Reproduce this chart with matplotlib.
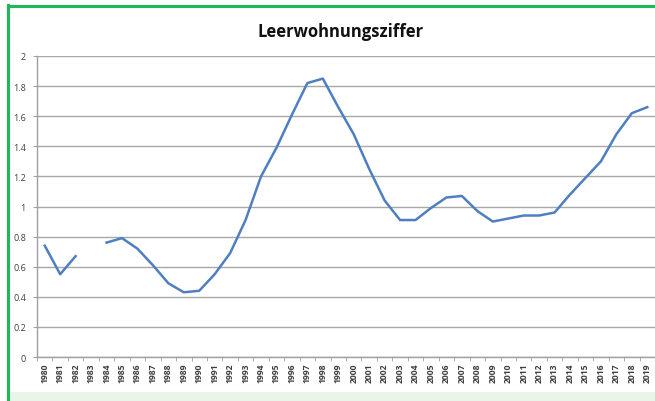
import matplotlib
matplotlib.use("Agg")
import matplotlib.pyplot as plt
import numpy as np
from matplotlib.patches import Rectangle

years = [str(y) for y in range(1980, 2020)]
values = [0.74, 0.55, 0.67, np.nan, 0.76, 0.79, 0.72, 0.61, 0.49, 0.43,
          0.44, 0.55, 0.69, 0.91, 1.20, 1.39, 1.61, 1.82, 1.85, 1.66,
          1.48, 1.25, 1.04, 0.91, 0.91, 0.99, 1.06, 1.07, 0.97, 0.90,
          0.92, 0.94, 0.94, 0.96, 1.08, 1.19, 1.30, 1.48, 1.62, 1.66]
yticks = [0, 0.2, 0.4, 0.6, 0.8, 1, 1.2, 1.4, 1.6, 1.8, 2]
ytick_labels = ["0", "0.2", "0.4", "0.6", "0.8", "1", "1.2", "1.4", "1.6", "1.8", "2"]
title = "Leerwohnungsziffer"

W, H = 655, 402
fig = plt.figure(figsize=(W / 100, H / 100), dpi=100)
fig.patch.set_facecolor("white")

# light green band at bottom and green frame
fig.add_artist(Rectangle((8 / W, 0), 1, 9 / H, transform=fig.transFigure,
                         facecolor="#eaf5ea", edgecolor="none", zorder=0))
fig.add_artist(plt.Line2D([7.5 / W, 7.5 / W], [0, 1 - 6 / H], transform=fig.transFigure,
                          color="#1db954", lw=2.2, zorder=5))
fig.add_artist(plt.Line2D([7.5 / W, 1], [1 - 6.5 / H, 1 - 6.5 / H], transform=fig.transFigure,
                          color="#1db954", lw=2.2, zorder=5))

ax = fig.add_axes([37 / W, 1 - 358 / H, (655 - 37) / W, (358 - 57) / H])
ax.set_facecolor("none")
x = np.arange(len(years))
ax.plot(x, values, color="#4f7fc0", lw=1.8, solid_joinstyle="round", zorder=3)

ax.set_xlim(-0.5, len(years) - 0.5)
ax.set_ylim(0, 2)
ax.set_yticks(yticks)
ax.set_yticklabels(ytick_labels, fontsize=6.5, color="#404040",
                   family="Open Sans")
ax.grid(axis="y", color="#a8a8a8", lw=1.0)
ax.set_axisbelow(True)

ax.set_xticks(x)
ax.set_xticklabels(years, rotation=90, fontsize=6.2, color="#404040",
                   family="Open Sans", fontweight="bold")
ax.set_xticks(np.arange(-0.5, len(years)), minor=True)
ax.tick_params(axis="x", which="major", length=0, pad=4)
ax.tick_params(axis="x", which="minor", length=3, color="#a0a0a0")
ax.tick_params(axis="y", length=3, color="#a0a0a0", pad=5)

for s in ["top", "right"]:
    ax.spines[s].set_visible(False)
for s in ["left", "bottom"]:
    ax.spines[s].set_color("#a0a0a0")
    ax.spines[s].set_linewidth(1.0)

fig.text(341 / W, 1 - 32 / H, title, ha="center", va="center",
         fontsize=12, fontweight="bold", family="Open Sans", color="#111111")

fig.savefig("out.png", dpi=100)
